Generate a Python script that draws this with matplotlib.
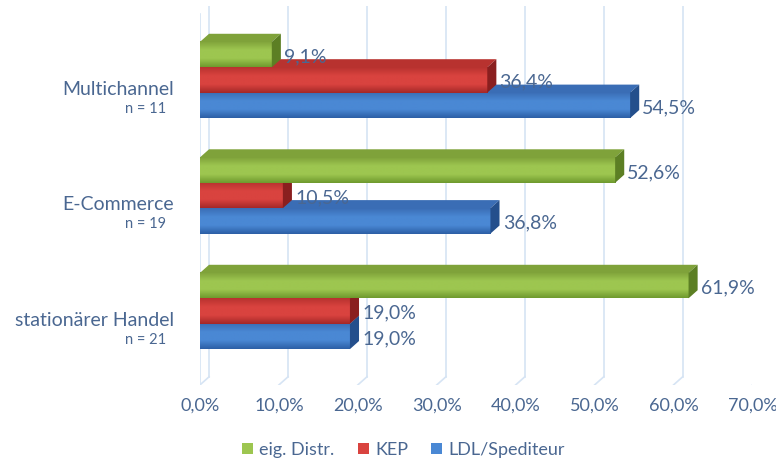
import numpy as np
import matplotlib.pyplot as plt
from matplotlib.patches import Polygon, Patch
from matplotlib.colors import LinearSegmentedColormap

plt.rcParams['font.family'] = ['Lato', 'DejaVu Sans']

# data
categories = ["stationärer Handel", "E-Commerce", "Multichannel"]
n_counts = [21, 19, 11]
series = ["eig. Distr.", "KEP", "LDL/Spediteur"]
eig_distr = [61.9, 52.6, 9.1]
kep = [19.0, 10.5, 36.4]
ldl = [19.0, 36.8, 54.5]
x_ticks = [0, 10, 20, 30, 40, 50, 60, 70]

# (light, dark, top face, side face)
colors = {
    "eig. Distr.": ("#9DC650", "#6F9A2E", "#7FA23A", "#5C7F24"),
    "KEP": ("#D9433F", "#A52828", "#B8322F", "#8A1F1F"),
    "LDL/Spediteur": ("#4A88D4", "#2C5FA6", "#3A6DB5", "#244F8C"),
}
text_col = "#4A6791"
grid_col = "#D6E4F4"

h = 0.22      # bar height (category units)
ddx = 1.15    # depth offset in x (% units)
ddy = 0.07    # depth offset in y (category units)
ylo, yhi = -0.64, 2.64

fig = plt.figure(figsize=(7.76, 4.66), dpi=100)
ax = fig.add_axes([0.2577, 0.174, 0.712, 0.813])

# back wall gridlines + floor diagonals
for t in x_ticks:
    ax.plot([t + ddx, t + ddx], [ylo + ddy, yhi], color=grid_col, lw=1.2, zorder=0)
    ax.plot([t, t + ddx], [ylo, ylo + ddy], color=grid_col, lw=1.2, zorder=0)
ax.plot([0, 0], [ylo, yhi - ddy], color=grid_col, lw=1.2, zorder=0)


def bar3d(y0, v, c, z):
    light, dark, top, side = c
    y1 = y0 + h
    cmap = LinearSegmentedColormap.from_list("g", [top, light, light, dark])
    grad = np.linspace(0, 1, 60).reshape(-1, 1)
    ax.imshow(grad, extent=[0, v, y0, y1], aspect='auto', cmap=cmap,
              origin='upper', zorder=z, interpolation='bilinear')
    ax.add_patch(Polygon([(0, y1), (v, y1), (v + ddx, y1 + ddy), (ddx, y1 + ddy)],
                         closed=True, facecolor=top, edgecolor='none', zorder=z))
    ax.add_patch(Polygon([(v, y0), (v, y1), (v + ddx, y1 + ddy), (v + ddx, y0 + ddy)],
                         closed=True, facecolor=side, edgecolor='none', zorder=z))


for i in range(len(categories)):
    vals = [ldl[i], kep[i], eig_distr[i]]
    names = ["LDL/Spediteur", "KEP", "eig. Distr."]
    for k, (v, nm) in enumerate(zip(vals, names)):
        yc = i + (k - 1) * h
        bar3d(yc - h / 2, v, colors[nm], 2 + k + i * 3)
        ax.text(v + ddx + 0.4, yc - 0.02, f"{v:.1f}%".replace(".", ","), ha='left', va='center',
                fontsize=14, color=text_col, zorder=20)

    ax.text(-0.047, i - 0.08, categories[i], transform=ax.get_yaxis_transform(),
            ha='right', va='center', fontsize=14, color=text_col)
    ax.text(-0.062, i - 0.25, f"n = {n_counts[i]}", transform=ax.get_yaxis_transform(),
            ha='right', va='center', fontsize=10.5, color=text_col)

ax.set_xlim(0, 70)
ax.set_ylim(ylo, yhi)
ax.set_xticks(x_ticks)
ax.set_xticklabels([f"{t:.1f}%".replace(".", ",") for t in x_ticks],
                   fontsize=13, color=text_col)
ax.set_yticks([])
ax.tick_params(axis='x', length=0, pad=9)
for s in ax.spines.values():
    s.set_visible(False)
ax.patch.set_alpha(0)

handles = [Patch(facecolor=colors[s][0], edgecolor='none') for s in series]
leg = fig.legend(handles, series, loc='center', bbox_to_anchor=(0.52, 0.035), ncol=3,
                 frameon=False, handlelength=0.6, handleheight=0.6, handletextpad=0.35,
                 columnspacing=1.3, fontsize=13)
for t in leg.get_texts():
    t.set_color(text_col)

fig.savefig("out.png", dpi=100)
